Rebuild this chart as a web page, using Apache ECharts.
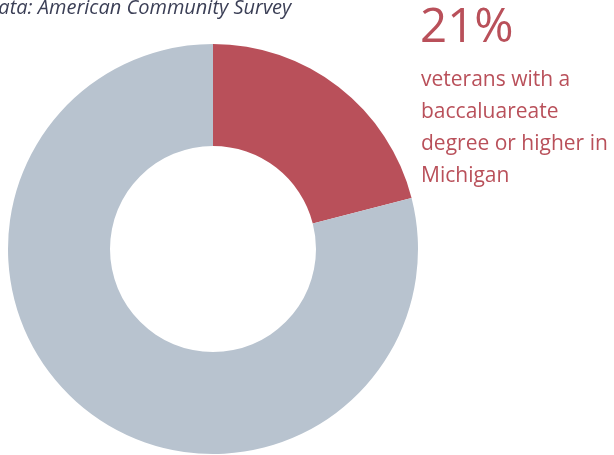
<!DOCTYPE html>
<html>
<head>
<meta charset="utf-8">
<script src="https://cdn.jsdelivr.net/npm/echarts@6/dist/echarts.min.js"></script>
<style>
html,body{margin:0;padding:0;background:#fff;}
#chart{width:614px;height:455px;}
</style>
</head>
<body>
<div id="chart"></div>
<script>
const categories = ["With baccalaureate degree or higher", "Without baccalaureate degree"];
const values = [21, 79];
const sourceText = "Data: American Community Survey";
const bigStat = "21%";
const statLines = ["veterans with a", "baccaluareate", "degree or higher in", "Michigan"];

const RED = "#b9505a";
const GRAY = "#b8c3cf";

const chart = echarts.init(document.getElementById('chart'), null, {renderer: 'canvas'});

const graphics = [
  {
    type: 'text', x: -15, y: -2,
    style: { text: sourceText, fill: '#3b3f56', fontSize: 20, fontStyle: 'italic', fontFamily: 'Open Sans', verticalAlign: 'top' }
  },
  {
    type: 'text', x: 420, y: 4,
    style: { text: bigStat, fill: RED, fontSize: 47.5, fontFamily: 'Open Sans', verticalAlign: 'top' }
  }
];
statLines.forEach((t, i) => {
  graphics.push({
    type: 'text', x: 421, y: 70 + i * 31.7,
    style: { text: t, fill: RED, fontSize: 21, fontFamily: 'Open Sans', verticalAlign: 'top' }
  });
});

chart.setOption({
  animation: false,
  backgroundColor: '#ffffff',
  graphic: graphics,
  series: [{
    type: 'pie',
    center: [213, 249],
    radius: [103, 205],
    startAngle: 90,
    clockwise: true,
    silent: true,
    label: { show: false },
    labelLine: { show: false },
    emphasis: { disabled: true },
    data: categories.map((c, i) => ({
      name: c,
      value: values[i],
      itemStyle: { color: i === 0 ? RED : GRAY }
    }))
  }]
});
</script>
</body>
</html>
